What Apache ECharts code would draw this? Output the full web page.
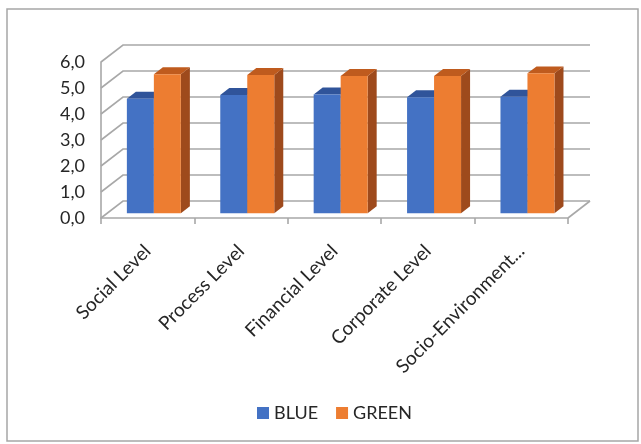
<!DOCTYPE html>
<html>
<head>
<meta charset="utf-8">
<script src="https://cdn.jsdelivr.net/npm/echarts@6/dist/echarts.min.js"></script>
<style>
  html, body { margin: 0; padding: 0; background: #fff; }
  #main { width: 641px; height: 444px; }
</style>
</head>
<body>
<div id="main"></div>
<script>
var categories = ['Social Level', 'Process Level', 'Financial Level', 'Corporate Level', 'Socio-Environment...'];
var blueValues = [4.4, 4.55, 4.57, 4.46, 4.48];
var greenValues = [5.35, 5.32, 5.28, 5.28, 5.38];
var yTicks = [0, 1, 2, 3, 4, 5, 6];

// fake 3d depth (px) of the plot box
var DX = 22, DY = -17;
var FRONT = 0.28, BACK = 0.69; // where bars sit in the depth
var GRID_COLOR = '#A8A8A8';
var FONT = 'Lato, "Open Sans", sans-serif';

var chart = echarts.init(document.getElementById('main'));

function wallItem(params, api) {
  var cs = params.coordSys;
  var v = api.value(0);
  var y = api.coord([0, v])[1];
  var x0 = cs.x, x1 = cs.x + cs.width;
  var style = { stroke: GRID_COLOR, lineWidth: 1.6, fill: null };
  var kids = [
    { type: 'polyline', shape: { points: [[x0, y], [x0 + DX, y + DY], [x1 + DX, y + DY]] }, style: style }
  ];
  if (v === 0) {
    kids.push({ type: 'line', shape: { x1: x1, y1: y, x2: x1 + DX, y2: y + DY }, style: style });
  }
  return { type: 'group', children: kids };
}

function barMaker(side, front, top, right) {
  return function (params, api) {
    var idx = api.value(0);
    var base = api.coord([idx, 0]);
    var head = api.coord([idx, api.value(1)]);
    var band = api.size([1, 0])[0];
    var w = band * 0.289;
    var fx = FRONT * DX, fy = FRONT * DY;
    var d = (BACK - FRONT);
    var bx = d * DX, by = d * DY;
    var x0 = base[0] + (side < 0 ? -w : 0) + fx;
    var x1 = x0 + w;
    var yb = base[1] + fy;
    var yt = head[1] + fy;
    return {
      type: 'group',
      children: [
        { type: 'polygon', shape: { points: [[x1, yb], [x1 + bx, yb + by], [x1 + bx, yt + by], [x1, yt]] }, style: { fill: right } },
        { type: 'polygon', shape: { points: [[x0, yt], [x1, yt], [x1 + bx, yt + by], [x0 + bx, yt + by]] }, style: { fill: top } },
        { type: 'rect', shape: { x: x0, y: yt, width: w, height: yb - yt }, style: { fill: front } }
      ]
    };
  };
}

chart.setOption({
  animation: false,
  backgroundColor: '#fff',
  graphic: [{
    type: 'rect',
    shape: { x: 7, y: 9, width: 631, height: 432 },
    style: { fill: null, stroke: '#A6A6A6', lineWidth: 1.5 },
    silent: true
  }],
  grid: { left: 101, top: 62, right: 73, bottom: 226 },
  legend: {
    data: ['BLUE', 'GREEN'],
    top: 399,
    left: 252,
    itemWidth: 12,
    itemHeight: 12,
    itemGap: 18,
    icon: 'rect',
    textStyle: { fontSize: 18, color: '#262626', fontFamily: FONT }
  },
  xAxis: {
    type: 'category',
    data: categories,
    axisLine: { lineStyle: { color: GRID_COLOR, width: 1.6 } },
    axisTick: { show: true, length: 6, lineStyle: { color: GRID_COLOR, width: 1.6 } },
    axisLabel: { interval: 0, rotate: 45, margin: 30, fontSize: 19, color: '#262626', fontFamily: FONT },
    splitLine: { show: false }
  },
  yAxis: {
    type: 'value',
    min: 0,
    max: 6,
    interval: 1,
    axisLine: { show: true, lineStyle: { color: GRID_COLOR, width: 1.6 } },
    axisTick: { show: false },
    splitLine: { show: false },
    axisLabel: {
      margin: 16,
      fontSize: 18,
      color: '#262626',
      fontFamily: FONT,
      formatter: function (v) { return v.toFixed(1).replace('.', ','); }
    }
  },
  series: [
    {
      name: 'walls',
      type: 'custom',
      clip: false,
      silent: true,
      z: 1,
      data: yTicks.map(function (t) { return [t]; }),
      encode: { y: 0 },
      renderItem: wallItem
    },
    {
      name: 'BLUE',
      type: 'custom',
      clip: false,
      z: 2,
      itemStyle: { color: '#4472C4' },
      data: blueValues.map(function (v, i) { return [i, v]; }),
      encode: { x: 0, y: 1 },
      renderItem: barMaker(-1, '#4472C4', '#30549A', '#2C4F8E')
    },
    {
      name: 'GREEN',
      type: 'custom',
      clip: false,
      z: 3,
      itemStyle: { color: '#ED7D31' },
      data: greenValues.map(function (v, i) { return [i, v]; }),
      encode: { x: 0, y: 1 },
      renderItem: barMaker(1, '#ED7D31', '#BF5B1E', '#9E4A1C')
    }
  ]
});
</script>
</body>
</html>
